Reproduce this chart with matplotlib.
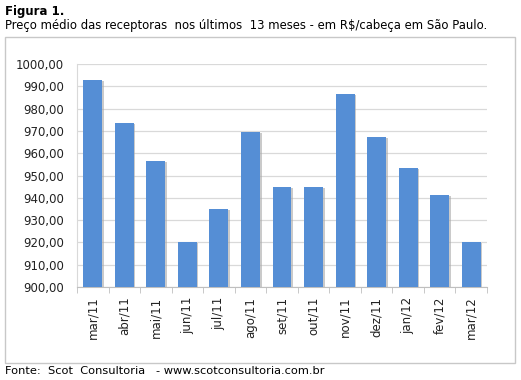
import matplotlib
matplotlib.use("Agg")
import matplotlib.pyplot as plt
from matplotlib.patches import Rectangle
import numpy as np

categories = ["mar/11", "abr/11", "mai/11", "jun/11", "jul/11", "ago/11", "set/11",
              "out/11", "nov/11", "dez/11", "jan/12", "fev/12", "mar/12"]
values = [992.8, 973.4, 956.6, 920.0, 934.9, 969.6, 944.9, 944.9, 986.4, 967.4, 953.2, 941.3, 920.0]
yticks = [900, 910, 920, 930, 940, 950, 960, 970, 980, 990, 1000]
ytick_labels = ["900,00", "910,00", "920,00", "930,00", "940,00", "950,00", "960,00",
                "970,00", "980,00", "990,00", "1000,00"]

plt.rcParams['font.family'] = ['DejaVu Sans']
W, H = 521, 380
fig = plt.figure(figsize=(W/100, H/100), dpi=100)

# chart border
fig.add_artist(Rectangle((5/W, 1-363/H), 510/W, 326/H, transform=fig.transFigure,
                         fill=False, edgecolor="#C8C8C8", linewidth=1))

ax = fig.add_axes([77/W, 1-287/H, 410/W, 223/H])
x = np.arange(len(categories))
# shadow
ax.bar(x + 0.05, np.array(values) - 900 - 0.4, bottom=900, width=0.6, color="#A8A8A8", alpha=0.6, zorder=2)
ax.bar(x, np.array(values) - 900, bottom=900, width=0.6, color="#558ED5", zorder=3)

ax.set_ylim(900, 1000)
ax.set_xlim(-0.5, len(categories) - 0.5)
ax.set_yticks(yticks)
ax.set_yticklabels(ytick_labels, fontsize=8.5, color="#222222")
ax.tick_params(axis='y', length=0, pad=9.5)
ax.grid(axis='y', color="#D9D9D9", linewidth=0.9, zorder=0)
ax.set_axisbelow(True)

ax.set_xticks(x)
ax.set_xticklabels(categories, rotation=90, fontsize=8.5, color="#222222")
ax.tick_params(axis='x', length=0, pad=7)
ax.set_xticks(np.arange(-0.5, len(categories)), minor=True)
ax.tick_params(axis='x', which='minor', length=4, color="#BFBFBF", direction='out')

for s in ["top", "right"]:
    ax.spines[s].set_visible(False)
ax.spines["left"].set_color("#D9D9D9")
ax.spines["bottom"].set_color("#BFBFBF")

fig.text(5/W, 1-12/H, "Figura 1.", fontsize=8.5, fontweight="bold", va="center", ha="left")
fig.text(5/W, 1-25/H, "Preço médio das receptoras  nos últimos  13 meses - em R$/cabeça em São Paulo.",
         fontsize=8.4, va="center", ha="left")
fig.text(5/W, 1-371/H, "Fonte:  Scot  Consultoria   - www.scotconsultoria.com.br",
         fontsize=8.2, va="center", ha="left")

fig.savefig("out.png", dpi=100)
